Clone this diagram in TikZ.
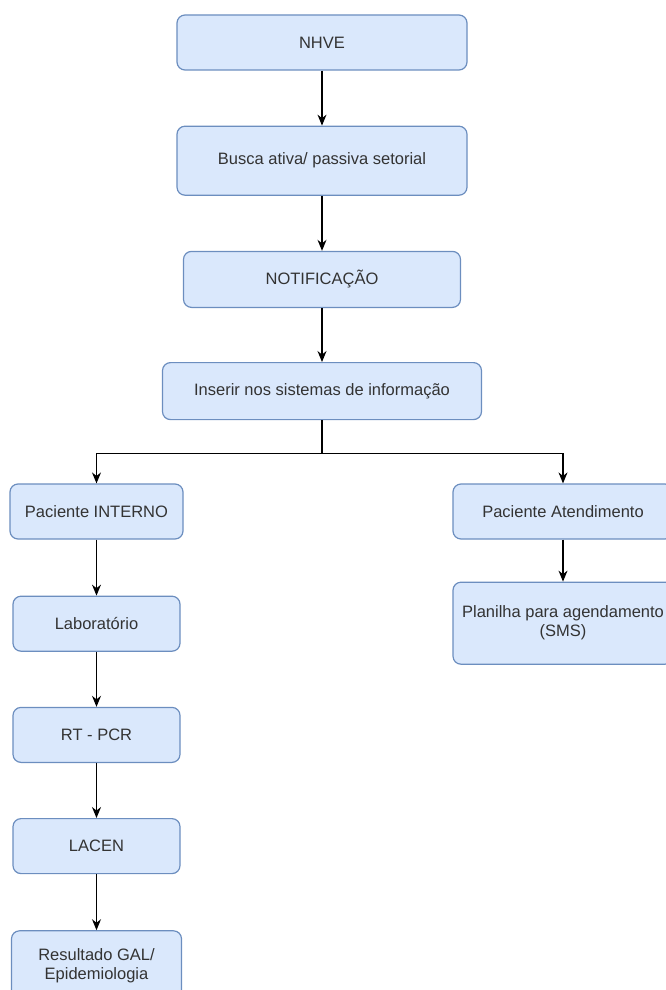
\documentclass[tikz,border=0pt]{standalone}
\usepackage{fontspec}
\setmainfont{Liberation Sans}
\usepackage{tikz}
\usetikzlibrary{arrows.meta, positioning, calc}
\usepackage{xcolor}
\definecolor{boxfill}{HTML}{DAE8FC}
\definecolor{boxline}{HTML}{6C8EBF}
\definecolor{txtgray}{HTML}{333333}

\begin{document}
\begin{tikzpicture}[x=1pt, y=-1pt,
    etapa/.style={draw=boxline, line width=1.2pt, fill=boxfill, rounded corners=8pt,
        align=center, text=txtgray, font=\fontsize{16.5}{19}\selectfont,
        minimum height=55pt, inner sep=0pt},
    seta/.style={-{Stealth[length=11pt, width=9pt]}, line width=1.2pt, black}]
    \useasboundingbox (0,0) rectangle (666,990);
    \clip (0,0) rectangle (666,990);

    % --- Coluna central ---
    \node[etapa, minimum width=290pt] (nhve) at (322,42.5) {NHVE};
    \node[etapa, minimum width=290pt, minimum height=69pt, below=55pt of nhve] (busca) {Busca ativa/ passiva setorial};
    \node[etapa, minimum width=277pt, minimum height=56pt, below=55pt of busca] (notif) {NOTIFICAÇÃO};
    \node[etapa, minimum width=319pt, minimum height=57pt, below=54pt of notif] (inserir) {Inserir nos sistemas de informação};

    % --- Coluna esquerda ---
    \node[etapa, minimum width=173pt] (interno) at (96.5,511.5) {Paciente INTERNO};
    \node[etapa, minimum width=167pt, below=56pt of interno] (lab) {Laboratório};
    \node[etapa, minimum width=167pt, below=55pt of lab] (rtpcr) {RT - PCR};
    \node[etapa, minimum width=167pt, below=55pt of rtpcr] (lacen) {LACEN};
    \node[etapa, minimum width=170pt, minimum height=70pt, below=56pt of lacen] (gal) {Resultado GAL/\\Epidemiologia};

    % --- Coluna direita ---
    \node[etapa, minimum width=220pt] (atend) at (563,511.5) {Paciente Atendimento};
    \node[etapa, minimum width=220pt, minimum height=82pt, below=42pt of atend] (planilha) {Planilha para agendamento\\(SMS)};

    % --- Setas ---
    \draw[seta] (nhve) -- (busca);
    \draw[seta] (busca) -- (notif);
    \draw[seta] (notif) -- (inserir);

    % ramificação
    \coordinate (ramo) at ($(inserir.south) + (0,33)$);
    \draw[line width=1.2pt] (inserir.south) -- (ramo);
    \draw[seta] (ramo) -| (interno.north);
    \draw[seta] (ramo) -| (atend.north);

    \draw[seta] (interno) -- (lab);
    \draw[seta] (lab) -- (rtpcr);
    \draw[seta] (rtpcr) -- (lacen);
    \draw[seta] (lacen) -- (gal);
    \draw[seta] (atend) -- (planilha);
\end{tikzpicture}
\end{document}
